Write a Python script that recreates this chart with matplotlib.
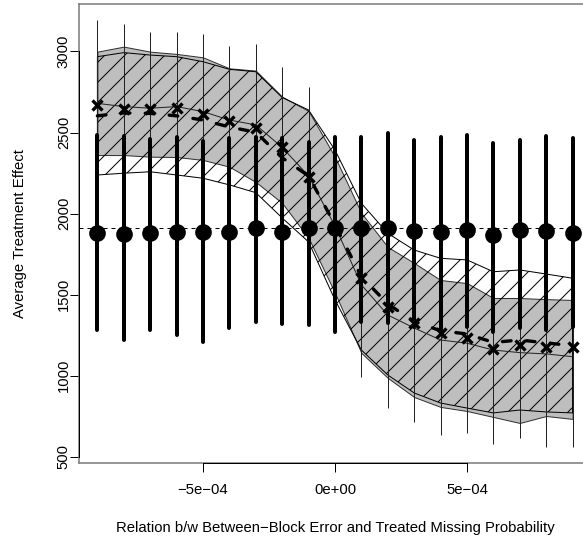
import matplotlib
matplotlib.use('Agg')
import matplotlib.pyplot as plt

plt.rcParams['font.family'] = ['Liberation Sans', 'DejaVu Sans']
plt.rcParams['hatch.linewidth'] = 0.6

# ---- data ----
x_vals = [-9e-4, -8e-4, -7e-4, -6e-4, -5e-4, -4e-4, -3e-4, -2e-4, -1e-4, 0.0,
          1e-4, 2e-4, 3e-4, 4e-4, 5e-4, 6e-4, 7e-4, 8e-4, 9e-4]

# filled circles with thick intervals
point_est = [1880, 1874, 1880, 1886, 1886, 1886, 1913, 1889, 1908, 1913,
             1911, 1911, 1893, 1888, 1899, 1868, 1899, 1894, 1880]
point_hi = [2485, 2479, 2460, 2473, 2448, 2466, 2473, 2466, 2442, 2473,
            2473, 2497, 2454, 2473, 2485, 2436, 2454, 2479, 2466]
point_lo = [1282, 1220, 1282, 1251, 1208, 1294, 1331, 1319, 1313, 1269,
            1331, 1323, 1302, 1282, 1302, 1271, 1292, 1282, 1302]

# crosses with thin intervals
cross_est = [2670, 2646, 2644, 2653, 2614, 2571, 2526, 2413, 2228, 1910,
             1601, 1426, 1323, 1261, 1231, 1163, 1189, 1179, 1175]
cross_hi = [3194, 3168, 3122, 3122, 3108, 3034, 3046, 2903, 2779, 2454,
            2210, 2052, 1932, 1888, 1816, 1748, 1763, 1798, 1790]
cross_lo = [2146, 2124, 2166, 2184, 2120, 2108, 2006, 1923, 1677, 1370,
            992, 800, 714, 634, 646, 578, 615, 560, 560]

# thin solid line (centre of grey band)
mean_line = [2680, 2660, 2650, 2660, 2629, 2577, 2547, 2408, 2232, 1923,
             1560, 1374, 1294, 1220, 1200, 1158, 1142, 1134, 1117]

# thick dashed line (centre of hatched band)
dash_line = [2603, 2621, 2618, 2603, 2577, 2534, 2502, 2344, 2232, 1930,
             1611, 1442, 1334, 1277, 1257, 1205, 1220, 1202, 1185]

# grey filled band
band_g_hi = [2999, 3030, 2999, 2985, 2964, 2896, 2882, 2721, 2633, 2349,
             2003, 1794, 1695, 1590, 1571, 1479, 1479, 1472, 1467]
band_g_lo = [2361, 2361, 2351, 2349, 2331, 2289, 2195, 2065, 1849, 1510,
             1140, 986, 868, 807, 782, 745, 708, 751, 733]

# hatched band
band_h_hi = [2968, 2993, 2978, 2968, 2937, 2890, 2875, 2716, 2639, 2392,
             2063, 1878, 1775, 1724, 1714, 1641, 1652, 1627, 1601]
band_h_lo = [2238, 2249, 2258, 2238, 2218, 2177, 2129, 1973, 1825, 1467,
             1158, 1004, 893, 831, 800, 770, 788, 776, 770]

ref_level = 1908

xticks = [-5e-4, 0.0, 5e-4]
xtick_labels = ['\u22125e\u221204', '0e+00', '5e\u221204']
yticks = [500, 1000, 1500, 2000, 2500, 3000]
ytick_labels = ['500', '1000', '1500', '2000', '2500', '3000']

xlabel = 'Relation b/w Between\u2212Block Error and Treated Missing Probability'
ylabel = 'Average Treatment Effect'

FS = 8.9

# ---- figure ----
W, H, DPI = 583, 540, 120
fig = plt.figure(figsize=(W / DPI, H / DPI), dpi=DPI)
ax_left, ax_bottom_px, ax_top_px, ax_w = 79, 463, 4, 512
ax = fig.add_axes([ax_left / W, (H - ax_bottom_px) / H, ax_w / W,
                   (ax_bottom_px - ax_top_px) / H])
ax.set_xlim(-9.697e-4, 9.697e-4)
ax.set_ylim(461, 3293)

ax.fill_between(x_vals, band_g_lo, band_g_hi, facecolor='#bebebe',
                edgecolor='#303030', linewidth=0.6, zorder=1)
ax.fill_between(x_vals, band_h_lo, band_h_hi, facecolor='none',
                edgecolor='black', hatch='//', linewidth=0.6, zorder=2)

ax.axhline(ref_level, color='black', lw=0.6, linestyle=(0, (4, 4)), zorder=3)

ax.vlines(x_vals, cross_lo, cross_hi, color='#222222', lw=0.6, zorder=4)
ax.plot(x_vals, mean_line, color='#222222', lw=0.6, zorder=4)
ax.vlines(x_vals, point_lo, point_hi, color='black', lw=2.4,
          capstyle='round', zorder=5)
ax.plot(x_vals, dash_line, color='black', lw=2.0, linestyle=(0, (2.6, 4.6)),
        dash_capstyle='round', zorder=6)
ax.plot(x_vals, cross_est, 'x', ms=5.5, mew=2.0, color='black', zorder=7)
ax.plot(x_vals, point_est, 'o', ms=9, color='black', zorder=8)

for s in ax.spines.values():
    s.set_color('#777777')
    s.set_linewidth(0.9)

ax.set_xticks(xticks, xtick_labels)
ax.set_yticks(yticks, ytick_labels)
for lab in ax.get_yticklabels():
    lab.set_rotation(90)
    lab.set_va('center')
ax.tick_params(axis='both', direction='out', length=5.4, width=0.6,
               color='black', labelsize=FS)
ax.tick_params(axis='x', pad=6.5)
ax.tick_params(axis='y', pad=-0.5)

# axis lines from first to last tick (R style)
ax.plot([xticks[0], xticks[-1]], [461, 461], color='black', lw=0.6,
        clip_on=False, zorder=10)
ax.plot([-9.697e-4, -9.697e-4], [yticks[0], yticks[-1]], color='black',
        lw=0.6, clip_on=False, zorder=10)

fig.text(335 / W, 1 - 528 / H, xlabel, ha='center', va='center', fontsize=FS)
fig.text(20 / W, 1 - 234 / H, ylabel, ha='center', va='center', rotation=90,
         fontsize=FS)

fig.savefig('out.png', dpi=DPI)
